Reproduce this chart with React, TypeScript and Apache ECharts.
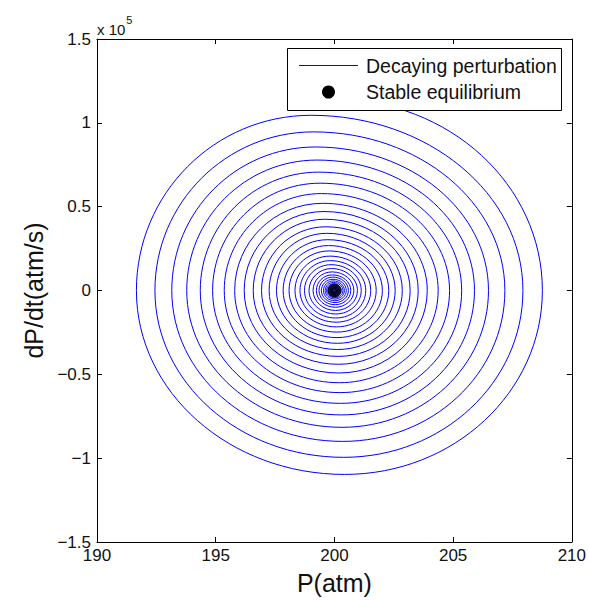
import React, { useEffect, useRef } from "react";
import * as echarts from "echarts";

// Phase portrait of a decaying pressure perturbation around P = 200 atm.
// The trajectory is described turn by turn by its extreme points:
// right / left turning points (dP/dt = 0) and top / bottom rate peaks.
const startP = 200.0;
const startRate = 114000;
const rightP = [
  208.76, 207.94, 207.18, 206.49, 205.9, 205.36, 204.85, 204.37, 203.91, 203.53,
  203.19, 202.86, 202.56, 202.29, 202.02, 201.76, 201.53, 201.32, 201.13, 200.97,
  200.82, 200.69, 200.59, 200.5, 200.42, 200.36, 200.29, 200.25, 200.21, 200.18,
  200.15, 200.13, 200.11, 200.08, 200.07,
];
const bottomP = [
  200.43, 200.39, 200.35, 200.32, 200.29, 200.26, 200.24, 200.21, 200.19, 200.17,
  200.16, 200.14, 200.13, 200.11, 200.1, 200.09, 200.07, 200.06, 200.06, 200.05,
  200.04, 200.03, 200.03, 200.02, 200.02, 200.02, 200.01, 200.01, 200.01, 200.01,
  200.01, 200.0, 200.0, 200.0, 200.0,
];
const bottomRate = [
  -109700, -99500, -90000, -81600, -74200, -67300, -60900, -55000, -49200, -44000,
  -39300, -35200, -31500, -28100, -24800, -21700, -18900, -16400, -14000, -11900,
  -10000, -8500, -7200, -6100, -5100, -4300, -3600, -3100, -2600, -2200,
  -1800, -1500, -1300, -1000, -800,
];
const leftP = [
  191.66, 192.44, 193.15, 193.78, 194.35, 194.87, 195.36, 195.8, 196.2, 196.58,
  196.93, 197.25, 197.56, 197.84, 198.09, 198.34, 198.55, 198.74, 198.93, 199.1,
  199.24, 199.35, 199.45, 199.54, 199.61, 199.67, 199.73, 199.77, 199.81, 199.84,
  199.87, 199.89, 199.91, 199.92, 199.94,
];
const topP = [
  199.02, 199.12, 199.2, 199.27, 199.34, 199.4, 199.46, 199.51, 199.56, 199.6,
  199.64, 199.68, 199.72, 199.75, 199.78, 199.81, 199.83, 199.86, 199.88, 199.9,
  199.91, 199.93, 199.94, 199.95, 199.96, 199.96, 199.97, 199.97, 199.98, 199.98,
  199.98, 199.99, 199.99, 199.99,
];
const topRate = [
  104500, 94600, 85600, 77800, 70600, 64000, 57800, 52000, 47100, 42500,
  38000, 34100, 30300, 26800, 23600, 20500, 17800, 15400, 13100, 11100,
  9300, 8000, 6700, 5700, 4800, 4000, 3400, 2800, 2400, 2000,
  1700, 1400, 1100, 900,
];

const equilibrium = [[200, 0]];
const xTicks = { min: 190, max: 210, interval: 5 };
const yTicks = { min: -150000, max: 150000, interval: 50000 };
const seriesNames = ["Decaying perturbation", "Stable equilibrium"];

// Ordered extreme points: [P, dP/dt, 1 if a turning point in P else 0]
function buildPoints(): number[][] {
  const pts: number[][] = [[startP, startRate, 0]];
  for (let k = 0; k < rightP.length; k++) {
    pts.push([rightP[k], 0, 1]);
    pts.push([bottomP[k], bottomRate[k], 0]);
    pts.push([leftP[k], 0, 1]);
    if (k < topP.length) pts.push([topP[k], topRate[k], 0]);
  }
  return pts;
}

function buildSegments(): number[][] {
  const pts = buildPoints();
  const segs: number[][] = [];
  for (let i = 0; i < pts.length - 1; i++) {
    segs.push([pts[i][0], pts[i][1], pts[i + 1][0], pts[i + 1][1], pts[i][2]]);
  }
  return segs;
}

const FONT = "'Liberation Sans', Arial, Helvetica, sans-serif";
const BLUE = "#0000ff";

function fmtY(v: number): string {
  const s = String(Math.round((v / 1e5) * 10) / 10);
  return s.replace("-", "\u2212");
}

export default function App() {
  const ref = useRef<HTMLDivElement>(null);

  useEffect(() => {
    document.body.style.margin = "0";
    if (!ref.current) return;
    const chart = echarts.init(ref.current, undefined, { renderer: "svg" });

    const K = 0.5523;
    const axisCommon = {
      axisLine: { show: true, onZero: false, lineStyle: { color: "#000", width: 1 } },
      axisTick: { show: true, inside: true, length: 5, lineStyle: { color: "#000" } },
      splitLine: { show: false },
    };
    const LZ = 200;

    chart.setOption({
      animation: false,
      backgroundColor: "#fff",
      grid: { left: 97, top: 39, width: 476, height: 504, containLabel: false },
      xAxis: [
        {
          type: "value",
          ...xTicks,
          position: "bottom",
          ...axisCommon,
          axisLabel: { color: "#111", fontFamily: FONT, fontSize: 17, margin: 5 },
          name: "P(atm)",
          nameLocation: "middle",
          nameGap: 28,
          nameTextStyle: { color: "#111", fontFamily: FONT, fontSize: 25, verticalAlign: "top" },
        },
        {
          type: "value",
          ...xTicks,
          position: "top",
          ...axisCommon,
          axisLabel: { show: false },
        },
      ],
      yAxis: [
        {
          type: "value",
          ...yTicks,
          position: "left",
          ...axisCommon,
          axisLabel: {
            color: "#111",
            fontFamily: FONT,
            fontSize: 17,
            margin: 6,
            formatter: fmtY,
          },
          name: "dP/dt(atm/s)",
          nameLocation: "middle",
          nameGap: 48,
          nameTextStyle: { color: "#111", fontFamily: FONT, fontSize: 25 },
        },
        {
          type: "value",
          ...yTicks,
          position: "right",
          ...axisCommon,
          axisLabel: { show: false },
        },
      ],
      series: [
        {
          name: seriesNames[0],
          type: "custom",
          xAxisIndex: 0,
          yAxisIndex: 0,
          clip: true,
          data: buildSegments(),
          encode: { x: [0, 2], y: [1, 3] },
          renderItem: (_params: any, api: any) => {
            const p0 = api.coord([api.value(0), api.value(1)]);
            const p1 = api.coord([api.value(2), api.value(3)]);
            const fromTurningPoint = api.value(4) === 1;
            let c1: number[];
            let c2: number[];
            if (fromTurningPoint) {
              // vertical tangent at a P extreme, horizontal at the rate peak
              c1 = [p0[0], p0[1] + K * (p1[1] - p0[1])];
              c2 = [p1[0] + K * (p0[0] - p1[0]), p1[1]];
            } else {
              c1 = [p0[0] + K * (p1[0] - p0[0]), p0[1]];
              c2 = [p1[0], p1[1] + K * (p0[1] - p1[1])];
            }
            return {
              type: "bezierCurve",
              shape: {
                x1: p0[0], y1: p0[1], x2: p1[0], y2: p1[1],
                cpx1: c1[0], cpy1: c1[1], cpx2: c2[0], cpy2: c2[1],
              },
              style: { stroke: BLUE, lineWidth: 1, fill: null },
            };
          },
          z: 2,
        },
        {
          name: seriesNames[1],
          type: "scatter",
          data: equilibrium,
          symbol: "circle",
          symbolSize: 14,
          itemStyle: { color: "#000" },
          z: 3,
        },
      ],
      graphic: [
        {
          type: "text",
          left: 97,
          top: 14,
          z: LZ,
          style: {
            text: "{a|x 10}{b|5}",
            rich: {
              a: { fontFamily: FONT, fontSize: 15, fill: "#111", padding: [8, 0, 0, 0] },
              b: { fontFamily: FONT, fontSize: 11, fill: "#111", verticalAlign: "top", padding: [0, 0, 8, 1] },
            },
          },
        },
        {
          type: "rect",
          z: LZ,
          shape: { x: 287.5, y: 48.5, width: 274, height: 62 },
          style: { fill: "#fff", stroke: "#000", lineWidth: 1 },
        },
        {
          type: "line",
          z: LZ + 1,
          shape: { x1: 299, y1: 65.5, x2: 358, y2: 65.5 },
          style: { stroke: BLUE, lineWidth: 1 },
        },
        {
          type: "text",
          z: LZ + 1,
          x: 366,
          y: 66,
          style: {
            text: seriesNames[0],
            fontFamily: FONT,
            fontSize: 19.5,
            fill: "#111",
            verticalAlign: "middle",
          },
        },
        {
          type: "circle",
          z: LZ + 1,
          shape: { cx: 328.5, cy: 92, r: 6.5 },
          style: { fill: "#000" },
        },
        {
          type: "text",
          z: LZ + 1,
          x: 366,
          y: 92,
          style: {
            text: seriesNames[1],
            fontFamily: FONT,
            fontSize: 19.5,
            fill: "#111",
            verticalAlign: "middle",
          },
        },
      ],
    });

    return () => chart.dispose();
  }, []);

  return <div ref={ref} style={{ width: 589, height: 600 }} />;
}
